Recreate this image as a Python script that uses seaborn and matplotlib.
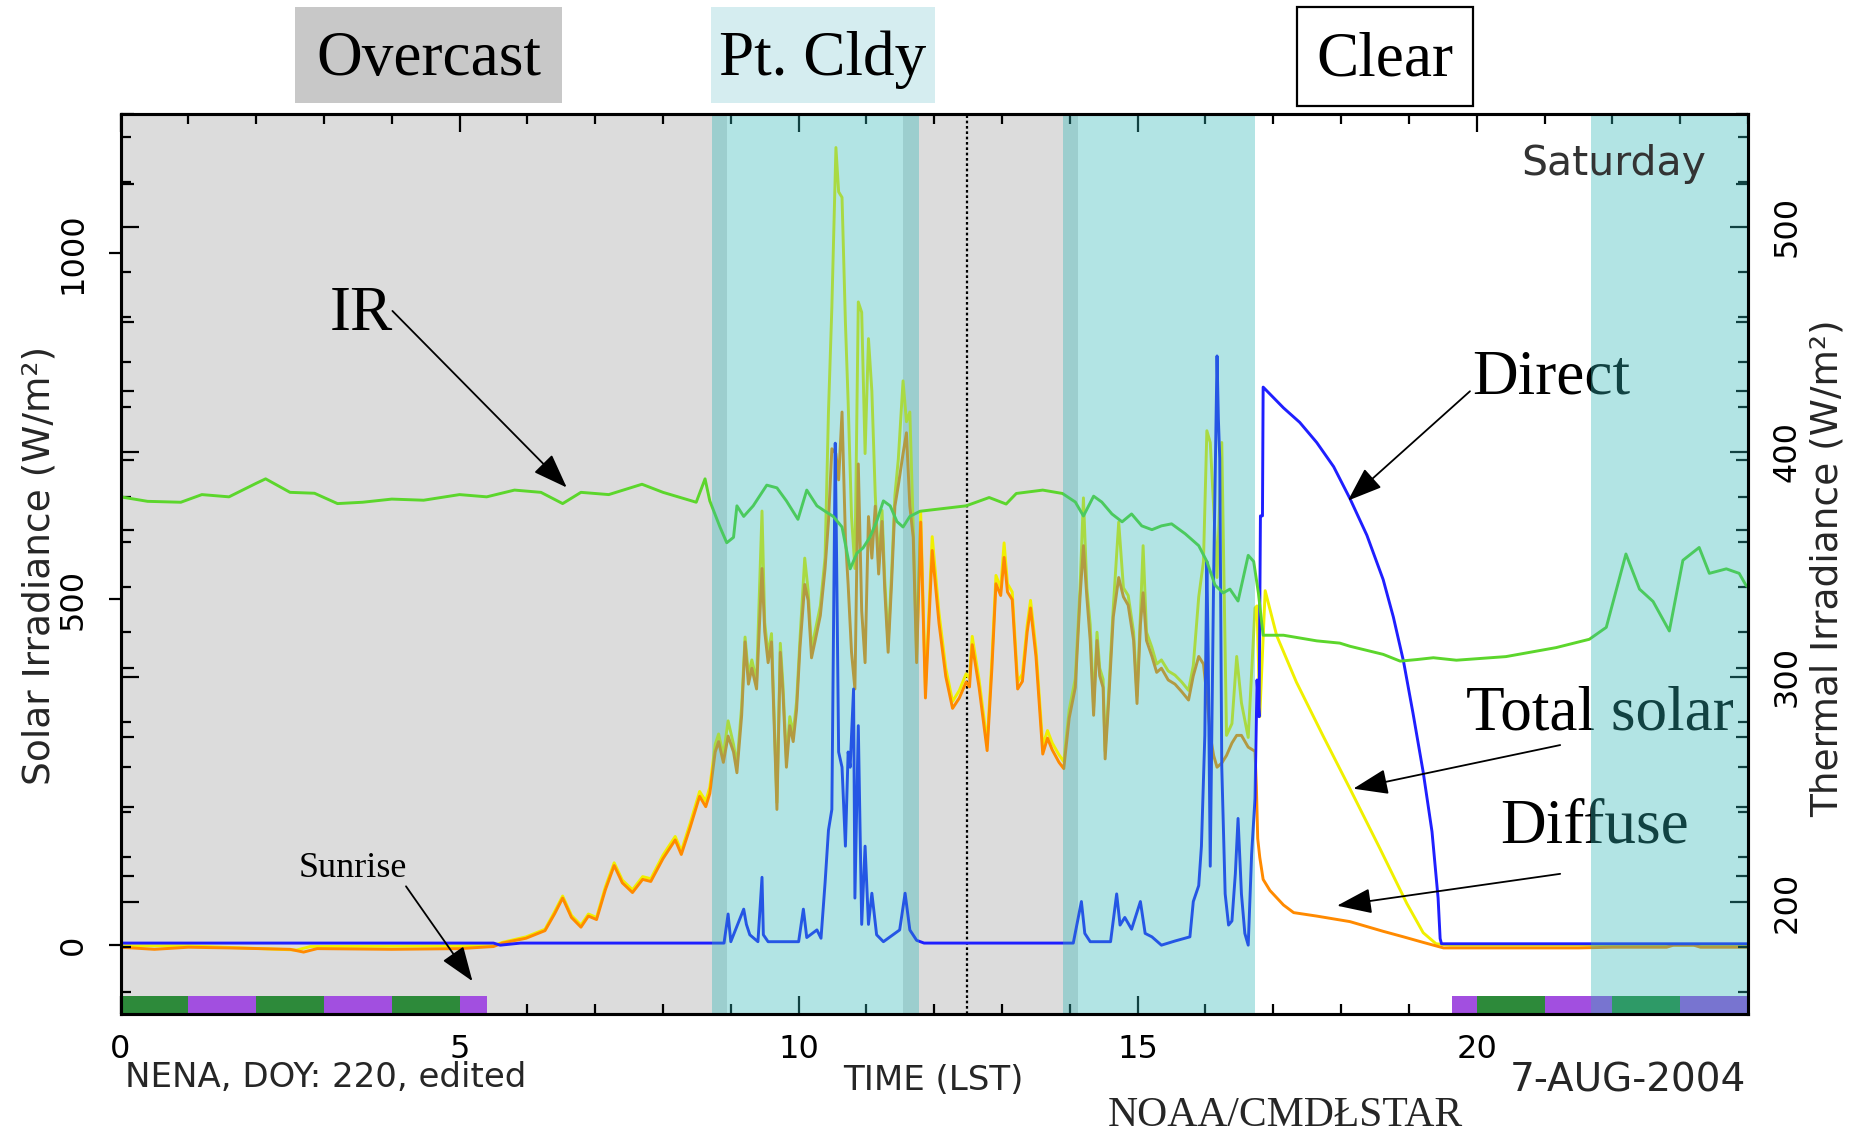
import matplotlib
matplotlib.use("Agg")
import matplotlib.pyplot as plt
import seaborn as sns
from matplotlib.ticker import MultipleLocator, FixedLocator
from matplotlib.patches import Rectangle

# ---------------- data ----------------
# Thermal (IR) irradiance, right axis, W/m2
ir_hours = [0, 0.4, 0.89, 1.2, 1.6, 2.0, 2.14, 2.5, 2.86, 3.2, 3.57, 4.0, 4.47, 5.0, 5.4, 5.81,
            6.2, 6.52, 6.79, 7.2, 7.69, 8.0, 8.49, 8.62,
            8.69, 8.84, 8.94, 9.04, 9.09, 9.19, 9.33, 9.53, 9.68, 9.82, 9.99, 10.12, 10.27, 10.39,
            10.51, 10.64, 10.76, 10.86, 10.95, 11.05, 11.15, 11.25, 11.35, 11.45, 11.54, 11.64,
            11.79, 12.47, 12.81, 13.06, 13.21, 13.6, 13.89,
            14.08, 14.20, 14.35, 14.47, 14.62, 14.77, 14.91, 15.06, 15.21, 15.35, 15.50, 15.70,
            15.90, 16.02, 16.14, 16.26, 16.36, 16.48, 16.63, 16.71, 16.78,
            16.85, 17.15, 17.64, 17.98, 18.13, 18.62, 18.87, 19.12, 19.36, 19.70, 20.43, 21.17,
            21.66, 21.91, 22.20, 22.40, 22.60, 22.84, 23.04, 23.28, 23.43, 23.68, 23.87, 23.97, 24.0]
ir_wm2 = [380, 378, 377.6, 381, 380, 386, 388, 382, 381.6, 377, 377.6, 379, 378.5, 381, 380, 383,
          382, 377, 382, 381, 385.6, 382, 377.6, 388,
          378.2, 366.6, 359.6, 362, 376, 371.3, 376, 385.2, 384, 378.2, 370, 383, 376, 373.6,
          371.3, 366.6, 348, 355, 357.3, 362, 369, 378.2, 376, 369, 366.6, 371.3,
          373.6, 376, 379.7, 376.8, 381.5, 383, 381.5,
          377.7, 371.5, 380.3, 377.7, 372.4, 368.9, 372.4, 367.1, 365.4, 367.1, 368, 363.6,
          358.3, 351.3, 340.8, 337.3, 339, 333.7, 354, 351.3, 337.3,
          318.5, 318.5, 316, 315, 313.6, 310, 307, 307.7, 308.5, 307.4, 309, 313,
          316.7, 322, 354.6, 339, 333.5, 320.4, 351.8, 357.5, 346, 348, 346, 340.7, 340]

# Diffuse solar, left axis, W/m2
dif_hours = [0, 0.5, 1.0, 1.6, 2.5, 2.7, 2.9, 4.0, 5.0, 5.5, 5.63, 5.98, 6.26, 6.4, 6.52, 6.65,
             6.79, 6.9, 7.02, 7.15, 7.28, 7.4, 7.55, 7.7, 7.82, 8.0, 8.18, 8.27, 8.4, 8.54, 8.63,
             8.69, 8.77, 8.82, 8.89, 8.96, 9.04, 9.09, 9.16, 9.21, 9.26, 9.31, 9.38, 9.46, 9.50,
             9.55, 9.60, 9.68, 9.73, 9.77, 9.82, 9.87, 9.92, 9.97, 10.02, 10.09, 10.14, 10.19,
             10.24, 10.32, 10.39, 10.44, 10.49, 10.55, 10.59, 10.64, 10.69, 10.73, 10.78, 10.83,
             10.88, 10.93, 10.98, 11.03, 11.08, 11.13, 11.18, 11.23, 11.27, 11.32, 11.37, 11.42,
             11.47, 11.54, 11.59, 11.64, 11.69, 11.74,
             11.80, 11.87, 11.97, 12.07, 12.17, 12.27, 12.37, 12.47, 12.52, 12.56, 12.66, 12.78,
             12.85, 12.91, 12.98, 13.03, 13.08, 13.15, 13.23, 13.30, 13.37, 13.42, 13.50, 13.60,
             13.67, 13.74, 13.84, 13.91, 13.99,
             14.08, 14.15, 14.20, 14.25, 14.30, 14.35, 14.40, 14.44, 14.49, 14.52, 14.57, 14.64,
             14.72, 14.79, 14.86, 14.94, 14.99, 15.04, 15.08, 15.13, 15.21, 15.28, 15.35, 15.45,
             15.55, 15.65, 15.75, 15.82, 15.90, 15.97, 16.02, 16.07, 16.12, 16.17, 16.24, 16.31,
             16.39, 16.46, 16.53, 16.63, 16.73,
             16.75, 16.77, 16.80, 16.85, 16.95, 17.15, 17.30, 17.64, 18.13, 18.62, 18.92, 19.21,
             19.51, 21.5, 22.0, 22.8, 22.9, 23.2, 23.3, 24.0]
dif_wm2 = [-3, -6, -3, -4, -6, -10, -5, -6, -5, -2, 3, 10, 21, 45, 68, 40,
           26, 42, 37, 80, 115, 90, 76, 95, 92, 125, 152, 131, 170, 215, 200,
           219, 279, 294, 264, 302, 279, 249, 332, 438, 377, 400, 370, 544, 453,
           408, 438, 196, 423, 362, 257, 317, 294, 340, 430, 521, 498, 415,
           438, 476, 544, 612, 717, 710, 672, 770, 589, 521, 423, 370,
           695, 483, 408, 619, 559, 634, 536, 612, 513, 423, 521, 634,
           664, 710, 740, 634, 589, 408,
           611, 357, 570, 465, 388, 342, 357, 380, 373, 434, 373, 281,
           400, 522, 505, 560, 510, 499, 370, 381, 452, 487, 417, 276,
           299, 282, 264, 255, 328,
           372, 503, 577, 503, 440, 332, 440, 389, 372, 269, 349, 474,
           531, 503, 491, 440, 349, 463, 509, 440, 417, 394, 400, 383,
           377, 366, 354, 389, 417, 406, 360, 303, 274, 257, 263, 274,
           292, 303, 303, 286, 280,
           230, 154, 127, 95, 79, 58, 47, 42, 34, 20, 12, 4,
           -4, -4, -3, -3, 0, 0, -3, -3]

# Total solar, left axis, W/m2
tot_hours = [0, 1.0, 2.6, 2.8, 5.5, 5.63, 5.98, 6.26, 6.4, 6.52, 6.65, 6.79, 6.9, 7.02, 7.15,
             7.28, 7.4, 7.55, 7.7, 7.82, 8.0, 8.18, 8.27, 8.4, 8.54, 8.63,
             8.69, 8.77, 8.82, 8.89, 8.96, 9.04, 9.09, 9.16, 9.21, 9.26, 9.31, 9.38, 9.46, 9.50,
             9.55, 9.60, 9.68, 9.73, 9.77, 9.82, 9.87, 9.92, 9.97, 10.02, 10.09, 10.14, 10.19,
             10.24, 10.32, 10.39, 10.44, 10.49, 10.55, 10.59, 10.64, 10.69, 10.73, 10.78, 10.83,
             10.88, 10.93, 10.98, 11.03, 11.08, 11.13, 11.18, 11.23, 11.27, 11.32, 11.37, 11.42,
             11.47, 11.54, 11.59, 11.64, 11.69, 11.74,
             11.80, 11.87, 11.97, 12.07, 12.17, 12.27, 12.37, 12.47, 12.52, 12.56, 12.66, 12.78,
             12.85, 12.91, 12.98, 13.03, 13.08, 13.15, 13.23, 13.30, 13.37, 13.42, 13.50, 13.60,
             13.67, 13.74, 13.84, 13.91, 13.99,
             14.08, 14.15, 14.20, 14.25, 14.30, 14.35, 14.40, 14.44, 14.49, 14.52, 14.57, 14.64,
             14.72, 14.79, 14.86, 14.94, 14.99, 15.04, 15.08, 15.13, 15.21, 15.28, 15.35, 15.45,
             15.55, 15.65, 15.75, 15.82, 15.90, 15.97, 16.02, 16.07, 16.12, 16.17, 16.24, 16.31,
             16.39, 16.46, 16.53, 16.63, 16.73, 16.76, 16.80,
             16.88, 17.05, 17.34, 17.73, 18.13, 18.57, 18.97, 19.21, 19.40, 19.6, 24.0]
tot_wm2 = [-1, -1, -7, -2, -1, 4, 12, 23, 48, 71, 43, 29, 45, 40, 84,
           119, 94, 80, 99, 96, 130, 157, 136, 176, 222, 208,
           228, 290, 305, 274, 324, 290, 260, 345, 445, 390, 412, 382, 627, 466,
           420, 450, 206, 436, 374, 268, 330, 306, 352, 442, 559, 512, 428,
           452, 490, 560, 770, 921, 1152, 1088, 1080, 899, 785, 619, 544,
           929, 914, 710, 876, 800, 650, 550, 628, 528, 436, 535, 650,
           702, 815, 756, 770, 604, 420,
           625, 370, 590, 480, 400, 352, 368, 392, 385, 446, 384, 292,
           412, 534, 516, 581, 522, 510, 380, 392, 462, 498, 428, 288,
           310, 292, 275, 265, 340,
           385, 516, 646, 516, 463, 344, 452, 400, 384, 280, 361, 488,
           611, 516, 505, 452, 360, 476, 577, 452, 430, 406, 412, 396,
           390, 380, 368, 404, 503, 554, 743, 726, 634, 531, 726, 303,
           320, 417, 350, 300, 487, 490, 330,
           512, 447, 380, 303, 226, 140, 60, 18, 2, 0, 0]

# Direct solar, left axis, W/m2
dir_hours = [0, 5.5, 5.6, 5.9, 8.9, 8.96, 9.00, 9.19, 9.23, 9.28, 9.40, 9.46, 9.48, 9.55, 10.0,
             10.07, 10.12, 10.27, 10.33, 10.39, 10.44, 10.49, 10.54, 10.56, 10.59, 10.64, 10.69,
             10.73, 10.76, 10.81, 10.83, 10.88, 10.93, 10.98, 11.03, 11.08, 11.15, 11.25, 11.49,
             11.57, 11.64, 11.74, 11.85, 14.05, 14.17, 14.22, 14.30, 14.60, 14.69, 14.74, 14.81,
             14.91, 15.04, 15.11, 15.21, 15.35, 15.55, 15.77, 15.82, 15.90, 15.94, 15.99, 16.02,
             16.04, 16.07, 16.12, 16.17, 16.19, 16.21, 16.24, 16.29, 16.34, 16.39, 16.44, 16.48,
             16.53, 16.58, 16.63, 16.68, 16.73, 16.76, 16.79, 16.81, 16.84, 16.85,
             17.15, 17.39, 17.64, 17.89, 18.13, 18.38, 18.62, 18.77, 18.92, 19.06, 19.21, 19.34,
             19.43, 19.46, 19.48, 24.0]
dir_wm2 = [3, 3, 0, 3, 3, 45, 5, 52, 30, 15, 5, 98, 15, 5, 5,
           52, 11, 22, 10, 90, 166, 196, 725, 559, 279, 257, 143,
           279, 257, 370, 68, 317, 30, 143, 30, 75, 15, 5, 22,
           75, 22, 7, 3, 3, 63, 17, 5, 5, 74, 29, 40,
           23, 63, 17, 12, 0, 6, 12, 63, 86, 143, 303, 554,
           417, 114, 531, 851, 760, 703, 257, 74, 29, 35, 103, 183,
           74, 17, 0, 131, 212, 383, 330, 620, 620, 806,
           776, 755, 726, 691, 645, 592, 528, 474, 410, 335, 250, 164,
           68, 9.5, 2, 2]

# sky-condition shading (hours)
gray_periods = [(0.0, 8.94), (11.54, 14.12)]
cyan_periods = [(8.72, 11.77), (13.90, 16.73), (21.69, 24.0)]
solar_noon = 12.48

# hourly night bar along the bottom
bar_start = [0, 1, 2, 3, 4, 5, 19.63, 20, 21, 22, 23]
bar_end = [1, 2, 3, 4, 5, 5.40, 20, 21, 22, 23, 24]
bar_color = ["#2d8a3a", "#a24fe0", "#2d8a3a", "#a24fe0", "#2d8a3a", "#a24fe0",
             "#a24fe0", "#2d8a3a", "#a24fe0", "#2d8a3a", "#a24fe0"]

x_ticks = [0, 5, 10, 15, 20]
x_tick_labels = ["0", "5", "10", "15", "20"]
left_ticks = [0, 500, 1000]
right_ticks = [200, 300, 400, 500]

SANS = "DejaVu Sans"
SERIF = ["Liberation Serif", "DejaVu Serif"]

sns.set_theme(style="white", rc={"axes.edgecolor": "black", "axes.linewidth": 2.2,
                                 "xtick.color": "black", "ytick.color": "black"})
plt.rcParams["font.family"] = [SANS]

W, H = 1865, 1132
fig = plt.figure(figsize=(W / 100, H / 100), dpi=100)
ax = fig.add_axes([120.5 / W, 1 - 1014.4 / H, (1748 - 120.5) / W, (1014.4 - 114.3) / H])
ax.set_facecolor("white")
ax2 = ax.twinx()

# background
for a, b in gray_periods:
    ax.axvspan(a, b, color="#dcdcdc", lw=0, zorder=0)
ax.axvline(solar_noon, color="black", ls=(0, (1.2, 1.2)), lw=1.6, zorder=0.5)
ax.bar(bar_start, [27] * len(bar_start), bottom=-100,
       width=[e - s for s, e in zip(bar_start, bar_end)], align="edge",
       color=bar_color, lw=0, zorder=0.8)

# series
LW = 2.1
sns.lineplot(x=tot_hours, y=tot_wm2, ax=ax, color="#f0f000", lw=LW, estimator=None, sort=False, zorder=1.5)
sns.lineplot(x=dif_hours, y=dif_wm2, ax=ax, color="#ff8a00", lw=LW, estimator=None, sort=False, zorder=1.6)
sns.lineplot(x=dir_hours, y=dir_wm2, ax=ax, color="#1f1fff", lw=LW, estimator=None, sort=False, zorder=1.7)
sns.lineplot(x=ir_hours, y=ir_wm2, ax=ax2, color="#5cd62c", lw=LW, estimator=None, sort=False, zorder=2)

ax.set_xlim(0, 24)
ax.set_ylim(-100, 1200)
ax2.set_ylim(150, 550)

# annotations (under the cyan overlay)
SER = dict(family=SERIF, color="black", zorder=2.1)
ax2.text(3.09, 888, "IR", transform=ax.transData, fontsize=45.5, ha="left", va="baseline", **SER)
ax2.text(19.94, 797, "Direct", transform=ax.transData, fontsize=45.5, ha="left", va="baseline", **SER)
ax2.text(19.84, 311, "Total solar", transform=ax.transData, fontsize=45.5, ha="left", va="baseline", **SER)
ax2.text(20.34, 148, "Diffuse", transform=ax.transData, fontsize=45.5, ha="left", va="baseline", **SER)
ax2.text(2.63, 98, "Sunrise", transform=ax.transData, fontsize=26, ha="left", va="baseline", **SER)

arrows = [((4.01, 916), (6.58, 661)), ((19.90, 800), (18.10, 642)),
          ((21.23, 289), (18.18, 226)), ((21.23, 103), (17.94, 57)),
          ((4.21, 85), (5.19, -52))]
for start, tip in arrows:
    ax2.annotate("", xy=tip, xytext=start, xycoords=ax.transData, textcoords=ax.transData,
                 arrowprops=dict(arrowstyle="-|>,head_length=0.9,head_width=0.33",
                                 mutation_scale=24, color="black", lw=1.3,
                                 shrinkA=0, shrinkB=0), zorder=2.1)

# translucent cyan overlays (partly cloudy periods)
for a, b in cyan_periods:
    ax2.axvspan(a, b, color=(48 / 255, 182 / 255, 182 / 255), alpha=0.37, lw=0, zorder=2.2)

ax2.text(22.02, 1112, "Saturday", transform=ax.transData, fontsize=29.5, color="#333333",
         ha="center", va="baseline", zorder=3)

# ticks
TL = 23
ax.set_xticks(x_ticks)
ax.set_xticklabels(x_tick_labels)
ax.xaxis.set_minor_locator(MultipleLocator(1))
ax.tick_params(axis="x", which="major", direction="in", length=13, width=1.6,
               top=True, bottom=True, pad=14, labelsize=TL)
ax.tick_params(axis="x", which="minor", direction="in", length=7, width=1.6, top=True, bottom=True)

ax.set_yticks(left_ticks)
ax.yaxis.set_minor_locator(FixedLocator(list(range(-100, 1201, 100))))
ax.tick_params(axis="y", which="major", direction="out", length=9, width=1.6,
               left=True, right=False, pad=14, labelsize=TL, labelrotation=90)
ax.tick_params(axis="y", which="minor", direction="in", length=9, width=1.6, left=True, right=True)
for lab in ax.get_yticklabels():
    lab.set_va("center")

ax2.set_yticks(right_ticks)
ax2.yaxis.set_minor_locator(MultipleLocator(20))
ax2.tick_params(axis="y", which="major", direction="in", length=13, width=1.6, left=True,
                right=True, labelleft=False, labelright=True, pad=17, labelsize=TL,
                labelrotation=90)
ax2.tick_params(axis="y", which="minor", direction="in", length=7, width=1.6, left=True, right=True)
for lab in ax2.get_yticklabels():
    lab.set_va("center")

for a_ in (ax, ax2):
    for s in a_.spines.values():
        s.set_visible(True)
        s.set_color("black")
        s.set_linewidth(2.2)

ax.set_xlabel("")
ax.set_ylabel("Solar Irradiance (W/m²)", fontsize=27)
ax.yaxis.set_label_coords(-0.0385, 0.499)
ax2.set_ylabel("Thermal Irradiance (W/m²)", fontsize=27)
ax2.yaxis.set_label_coords(1.038, 0.496)

# figure-level texts
fig.text(125 / W, 1 - 1077.6 / H, "NENA, DOY: 220, edited", ha="left", va="center", fontsize=24.5)
fig.text(933.7 / W, 1 - 1080 / H, "TIME (LST)", ha="center", va="center", fontsize=24.5)
fig.text(1746 / W, 1 - 1081 / H, "7-AUG-2004", ha="right", va="center", fontsize=28)
fig.text(1285 / W, 1 - 1126 / H, "NOAA/CMDŁSTAR", ha="center", va="baseline",
         family=SERIF, fontsize=30)

# sky-condition header boxes
boxes = [("Overcast", 295, 562, 7, 102.5, "#c8c8c8", "none"),
         ("Pt. Cldy", 711, 935, 7, 102.5, "#d5edf0", "none"),
         ("Clear", 1297, 1473, 6.5, 105.5, "white", "black")]
for label, x0, x1, y0, y1, fc, ec in boxes:
    fig.add_artist(Rectangle((x0 / W, 1 - y1 / H), (x1 - x0) / W, (y1 - y0) / H,
                             transform=fig.transFigure, fc=fc, ec=ec, lw=1.6))
    fig.text((x0 + x1) / 2 / W, 1 - 75 / H, label, ha="center", va="baseline",
             family=SERIF, fontsize=45.5, color="black")

fig.savefig("out.png", dpi=100)
